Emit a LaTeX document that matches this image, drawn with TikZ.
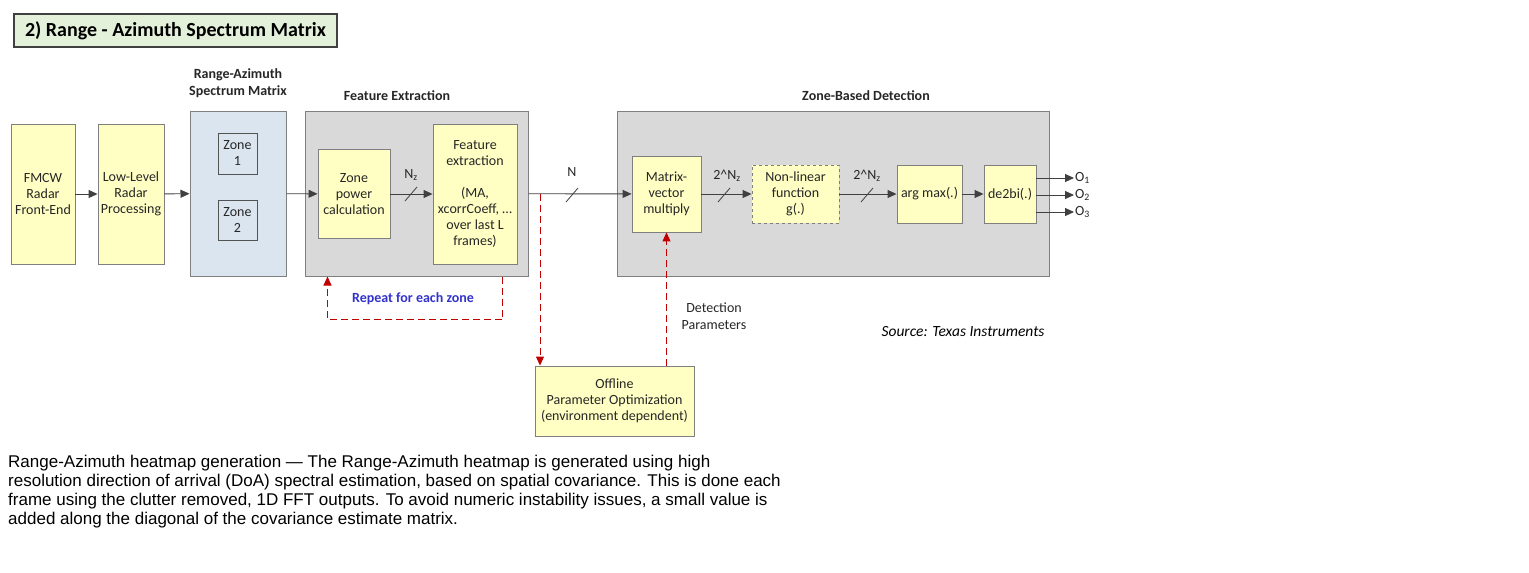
\documentclass[tikz,border=0pt]{standalone}
\usepackage{fontspec}
\setmainfont{Carlito}
\newfontfamily\arialfont{Liberation Sans}
\usetikzlibrary{arrows.meta,positioning}
\definecolor{boxline}{HTML}{7F7F7F}
\definecolor{boxfill}{HTML}{FFFFC4}
\definecolor{grayfill}{HTML}{D9D9D9}
\definecolor{bluefill}{HTML}{DAE5F0}
\definecolor{titlefill}{HTML}{E4F1DA}
\definecolor{lineC}{HTML}{404040}
\definecolor{redC}{HTML}{C00000}
\definecolor{blueC}{HTML}{3333CC}
\definecolor{textC}{HTML}{262626}

\begin{document}
\begin{tikzpicture}[
    x=1pt, y=-1pt,
    box/.style={draw=boxline, line width=0.9pt, fill=boxfill, align=center, inner sep=1pt,
                text=textC, font=\fontsize{14}{16}\selectfont},
    group/.style={draw=boxline, line width=1pt, fill=grayfill},
    zonebox/.style={draw=lineC!90, line width=0.9pt, fill=bluefill, align=center, inner sep=1pt,
                text=textC, font=\fontsize{14}{16}\selectfont},
    head/.style={align=center, text=textC, font=\bfseries\fontsize{14}{17}\selectfont},
    lbl/.style={align=center, text=textC, font=\fontsize{14}{17}\selectfont, inner sep=1pt},
    arrow/.style={-{Triangle[length=9pt,width=8pt]}, line width=0.9pt, draw=lineC},
    redarrow/.style={-{Triangle[length=9pt,width=8pt]}, line width=1pt, draw=redC,
                dash pattern=on 7pt off 4pt},
    slash/.style={line width=0.8pt, draw=lineC}
]
\useasboundingbox (0,0) rectangle (1529,573);

% title
\node[draw=lineC, line width=1.2pt, fill=titlefill, minimum width=323pt, minimum height=33pt,
      font=\bfseries\fontsize{20}{22}\selectfont] (title) at (175.5,30.5) {2) Range - Azimuth Spectrum Matrix};

% front end
\node[box, minimum width=64pt, minimum height=140pt] (fmcw) at (43,194) {FMCW\\Radar\\Front-End};
\node[box, minimum width=66pt, minimum height=140pt] (llrp) at (131,194) {Low-Level\\Radar\\Processing};

% spectrum matrix
\node[draw=boxline, line width=1pt, fill=bluefill, minimum width=96pt, minimum height=165pt] (ram) at (238,193.5) {};
\node[zonebox, minimum width=39pt, minimum height=41pt] (zone1) at (237.5,153.5) {Zone\\1};
\node[zonebox, minimum width=39pt, minimum height=40pt] (zone2) at (237.5,220) {Zone\\2};
\node[head] (ramlbl) at (238,83.5) {Range-Azimuth\\Spectrum Matrix};

% feature extraction
\node[group, minimum width=223pt, minimum height=165pt] (fe) at (416.5,193.5) {};
\node[head] (felbl) at (397,96) {Feature Extraction};
\node[box, minimum width=72pt, minimum height=89pt] (zp) at (354,194) {Zone\\power\\calculation};
\node[box, minimum width=84pt, minimum height=140pt] (fx) at (475,194) {Feature\\extraction\\[16pt](MA,\\xcorrCoeff, \dots\\over last L\\frames)};

% zone-based detection
\node[group, minimum width=432pt, minimum height=165pt] (zbd) at (833,193.5) {};
\node[head] (zbdlbl) at (866,96) {Zone-Based Detection};
\node[box, minimum width=69pt, minimum height=76pt] (mv) at (666.5,194) {Matrix-\\vector\\multiply};
\node[box, dashed, minimum width=87pt, minimum height=58pt] (nl) at (795.5,194) {Non-linear\\function\\g(.)};
\node[box, minimum width=65pt, minimum height=58pt] (am) at (929.5,194) {arg max(.)};
\node[box, minimum width=52pt, minimum height=58pt] (db) at (1010,194) {de2bi(.)};

% outputs
\node[lbl, anchor=west] (o1) at (1074,178) {O\textsubscript{1}};
\node[lbl, anchor=west] (o2) at (1074,195) {O\textsubscript{2}};
\node[lbl, anchor=west] (o3) at (1074,212) {O\textsubscript{3}};

% offline optimisation
\node[box, minimum width=159pt, minimum height=70pt] (offline) at (614.5,401) {Offline\\Parameter Optimization\\(environment dependent)};

% flow
\draw[arrow] (fmcw) -- (llrp);
\draw[arrow] (llrp) -- (ram);
\draw[arrow] (ram) -- (zp);
\draw[arrow] (zp) -- (fx);
\draw[arrow] (fe) -- (mv);
\draw[arrow] (mv) -- (nl);
\draw[arrow] (nl) -- (am);
\draw[arrow] (am) -- (db);
\foreach \o in {o1,o2,o3}
  \draw[arrow] (db.east |- \o) -- (\o.west);

% bus widths
\draw[slash] (405,201) -- (417,187);
\node[lbl] (nzlbl) at (411,175) {N\textsubscript{z}};
\draw[slash] (566,202) -- (578,188);
\node[lbl] (nlbl) at (572,172) {N};
\draw[slash] (718,202) -- (730,188);
\node[lbl] (bus1) at (727,176) {2\^{}N\textsubscript{z}};
\draw[slash] (861,202) -- (873,188);
\node[lbl] (bus2) at (867,176) {2\^{}N\textsubscript{z}};

% feedback paths
\coordinate (split) at (540,194);
\draw[redarrow] (split) -- (split |- offline.north);
\draw[redarrow] (mv.south |- offline.north) -- (mv.south);
\node[lbl] (detlbl) at (714,316.5) {Detection\\Parameters};
\draw[redarrow] ([xshift=-26pt]fe.south east) -- ++(0,43) -| ([xshift=23pt]fe.south west);
\node[font=\bfseries\fontsize{14}{16}\selectfont, text=blueC] (repeat) at (413,299) {Repeat for each zone};

% notes
\node[font=\itshape\fontsize{15.5}{17}\selectfont, text=black] (source) at (963,332) {Source: Texas Instruments};
\node[anchor=north west, align=left, inner sep=0pt, font=\arialfont\fontsize{17}{19}\selectfont] (caption) at (8,455)
  {Range-Azimuth heatmap generation \textemdash{} The Range-Azimuth heatmap is generated using high\\
   resolution direction of arrival (DoA) spectral estimation, based on spatial covariance. This is done each\\
   frame using the clutter removed, 1D FFT outputs. To avoid numeric instability issues, a small value is\\
   added along the diagonal of the covariance estimate matrix.};
\end{tikzpicture}
\end{document}
